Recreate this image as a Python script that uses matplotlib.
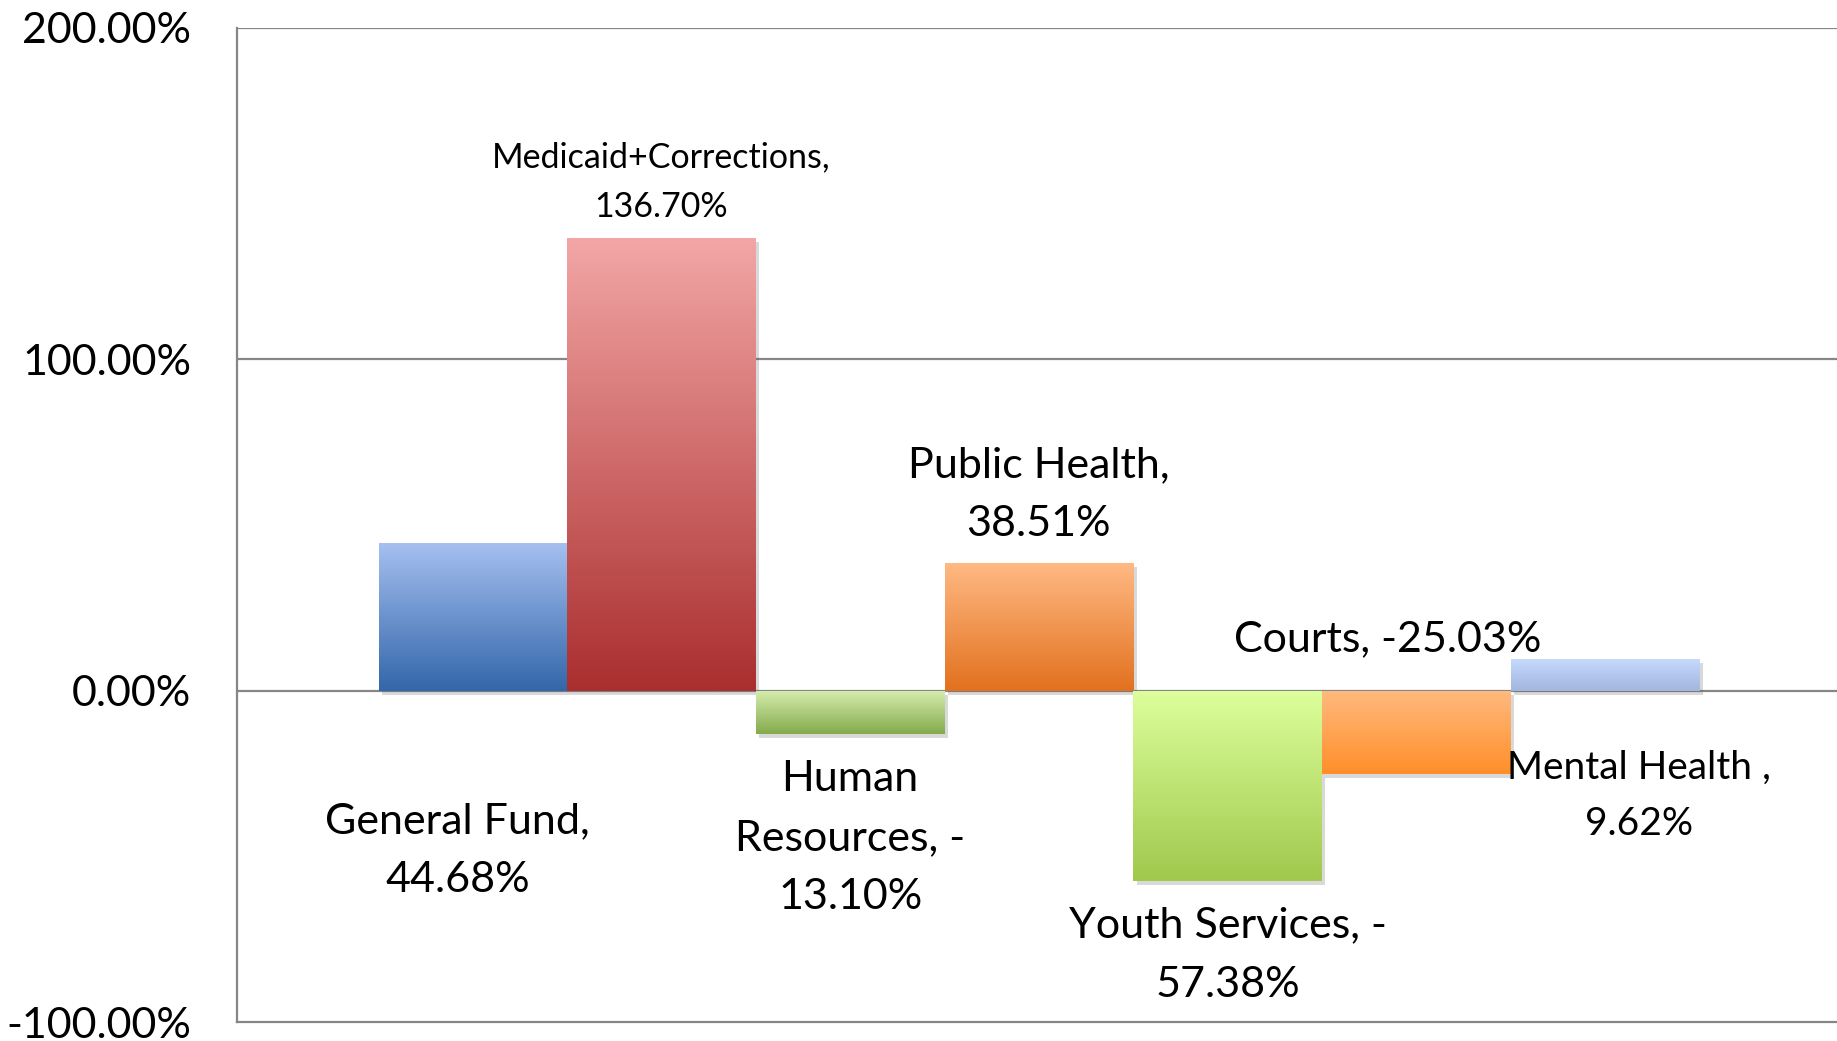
import numpy as np
import matplotlib
matplotlib.use('Agg')
import matplotlib.pyplot as plt
import matplotlib.patheffects as pe
from matplotlib.colors import LinearSegmentedColormap

plt.rcParams['font.family'] = ['Lato', 'DejaVu Sans']

# data
names = ['General Fund', 'Medicaid+Corrections', 'Human Resources', 'Public Health',
         'Youth Services', 'Courts', 'Mental Health ']
values = [44.68, 136.70, -13.10, 38.51, -57.38, -25.03, 9.62]
# gradient colours (top, bottom) for each bar
top_colors = ['#a6c0f0', '#f3a6a6', '#d6eeae', '#ffb983', '#ddff9c', '#ffba7e', '#c6dafe']
bot_colors = ['#3366aa', '#aa2e2e', '#84aa4c', '#e2711f', '#a0c84c', '#ff8e2a', '#a2b6de']
yticks = [-100, 0, 100, 200]
ytick_labels = ['-100.00%', '0.00%', '100.00%', '200.00%']

# label text, positions (x in bar units, y in data units), fontsize
label_text = ['General Fund,\n44.68%', 'Medicaid+Corrections,\n136.70%',
              'Human\nResources, -\n13.10%', 'Public Health,\n38.51%',
              'Youth Services, -\n57.38%', 'Courts, -25.03%', 'Mental Health ,\n9.62%']
label_pos = [(-3.08, -48.2), (-2.0, 153.6), (-1.0, -44.4), (0.0, 59.1),
             (1.0, -79.8), (1.85, 15.4), (3.18, -31.7)]
label_size = [31, 24.5, 31, 31, 31, 31, 28]

fig = plt.figure(figsize=(18.37, 10.41), dpi=100)
ax = fig.add_axes([237/1837, 19/1041, 1600/1837, 994/1041])

x = np.arange(len(values)) - 3
ax.set_xlim(-4.25, 4.23)
ax.set_ylim(-100, 200)

for yv in [0, 100, 200]:
    ax.axhline(yv, color='#868686', lw=1.6, zorder=1)

bars = ax.bar(x, values, width=1.0, color='white', edgecolor='none', zorder=2)
for b, c1, c2 in zip(bars, top_colors, bot_colors):
    b.set_path_effects([pe.SimplePatchShadow(offset=(2.5, -3), alpha=0.22, shadow_rgbFace='#555555'),
                        pe.Normal()])
    cmap = LinearSegmentedColormap.from_list('g', [c1, c2])
    x0 = b.get_x()
    y0 = b.get_y()
    h = b.get_height()
    ylo, yhi = min(y0, y0 + h), max(y0, y0 + h)
    grad = np.linspace(0, 1, 256).reshape(-1, 1)
    im = ax.imshow(grad, cmap=cmap, aspect='auto', origin='upper',
                   extent=(x0, x0 + b.get_width(), ylo, yhi), zorder=3)
    im.set_clip_path(b)

for txt, (lx, ly), fs in zip(label_text, label_pos, label_size):
    ax.text(lx, ly, txt, ha='center', va='center', fontsize=fs,
            linespacing=1.68, zorder=5, clip_on=False)

ax.set_yticks(yticks)
ax.set_yticklabels(ytick_labels, fontsize=31)
ax.set_xticks([])
ax.tick_params(axis='y', length=0, pad=33)
for s in ['top', 'right']:
    ax.spines[s].set_visible(False)
for s in ['left', 'bottom']:
    ax.spines[s].set_color('#868686')
    ax.spines[s].set_linewidth(1.6)

fig.savefig('out.png', dpi=100)
